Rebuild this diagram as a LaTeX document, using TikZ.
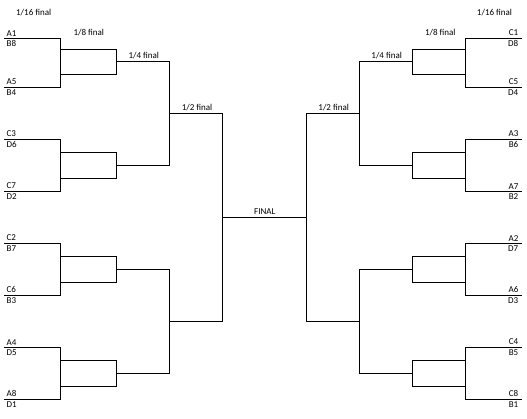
\documentclass[tikz,border=0pt]{standalone}
\usepackage{fontspec}
\setmainfont{Carlito}
\usetikzlibrary{positioning}

\begin{document}
\begin{tikzpicture}[x=1pt,y=-1pt,
  ln/.style={line width=1pt},
  t/.style={font=\fontsize{9}{10}\selectfont,inner sep=0pt},
  r/.style={t,font=\fontsize{9}{10}\selectfont}]
\useasboundingbox (0,0) rectangle (527,418);
% left half
\foreach \a/\b [count=\i] in {38/87,139/191,243/295,347/399}
  \draw[ln] (4,\a) -- (60.5,\a) -- (60.5,\b) -- (4,\b);
\foreach \a/\b in {49/74,152/178,256/282,360/386}
  \draw[ln] (60.5,\a) -- (116,\a) -- (116,\b) -- (60.5,\b);
\foreach \a/\b in {61/165,269/373}
  \draw[ln] (116,\a) -- (169.3,\a) -- (169.3,\b) -- (116,\b);
\draw[ln] (169.3,113) -- (222.3,113) -- (222.3,321) -- (169.3,321);
% right half
\foreach \a/\b in {38/87,139/191,243/295,347/399}
  \draw[ln] (522,\a) -- (465.5,\a) -- (465.5,\b) -- (522,\b);
\foreach \a/\b in {49/74,152/178,256/282,360/386}
  \draw[ln] (465.5,\a) -- (412,\a) -- (412,\b) -- (465.5,\b);
\foreach \a/\b in {61/165,269/373}
  \draw[ln] (412,\a) -- (359.3,\a) -- (359.3,\b) -- (412,\b);
\draw[ln] (359.3,113) -- (306.7,113) -- (306.7,321) -- (359.3,321);
% final
\draw[ln] (222.3,217) -- (306.7,217);
% teams
\foreach \y/\u/\d [count=\i] in {38/A1/B8,87/A5/B4,139/C3/D6,191/C7/D2,
    243/C2/B7,295/C6/B3,347/A4/D5,399/A8/D1} {
  \node[t,anchor=south west] (lu\i) at (6.5,\y-1.8) {\u};
  \node[t,anchor=north west] (ld\i) at (6.5,\y+2.2) {\d};
}
\foreach \y/\u/\d [count=\i] in {38/C1/D8,87/C5/D4,139/A3/B6,191/A7/B2,
    243/A2/D7,295/A6/D3,347/C4/B5,399/C8/B1} {
  \node[t,anchor=south east] (ru\i) at (518.5,\y-1.8) {\u};
  \node[t,anchor=north east] (rd\i) at (518.5,\y+2.2) {\d};
}
% rounds
\node[t] (l16) at (33.7,13) {1/16 final};
\node[t] (r16) at (494.5,13) {1/16 final};
\node[t] (l8) at (88.8,32.7) {1/8 final};
\node[t] (r8) at (440.3,32.7) {1/8 final};
\node[t] (l4) at (143.8,55.7) {1/4 final};
\node[t] (r4) at (386.7,55.7) {1/4 final};
\node[t] (l2) at (197,107.3) {1/2 final};
\node[t] (r2) at (333.7,107.3) {1/2 final};
\node[t] (fin) at (264.8,212) {FINAL};
\end{tikzpicture}
\end{document}
